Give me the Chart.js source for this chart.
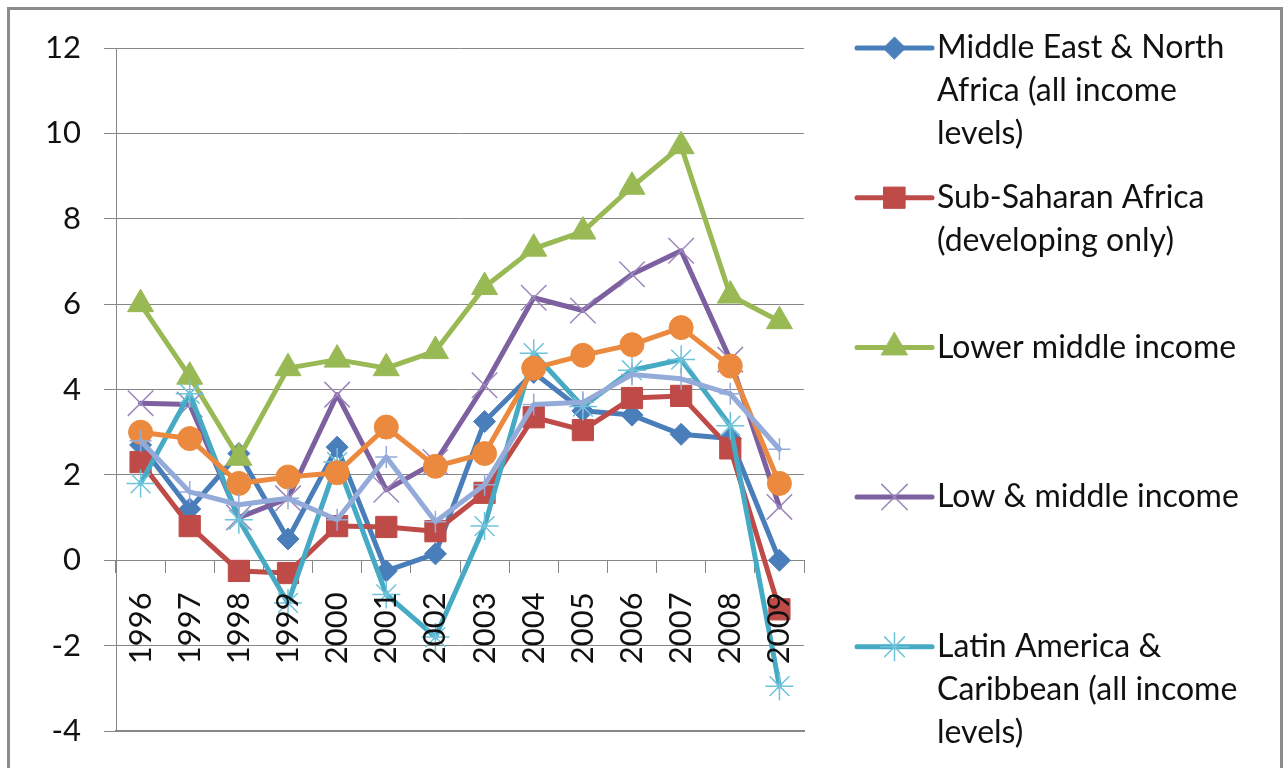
<!DOCTYPE html>
<html>
<head>
<meta charset="utf-8">
<script src="https://cdn.jsdelivr.net/npm/chart.js@4/dist/chart.umd.min.js"></script>
<style>
  html, body { margin: 0; padding: 0; background: #fff; overflow: hidden; }
  #wrap { position: absolute; left: 0; top: 0; width: 1283px; height: 768px; }
  #frame { position: absolute; left: 7px; top: 7px; width: 1276px; height: 800px;
           border: 3px solid #8c8c8c; box-sizing: border-box; }
  canvas { position: absolute; left: 0; top: 0; }
</style>
</head>
<body>
<div id="wrap">
  <div id="frame"></div>
  <canvas id="growthChart" width="1283" height="768"></canvas>
</div>
<script>
const years = ['1996', '1997', '1998', '1999', '2000', '2001', '2002',
               '2003', '2004', '2005', '2006', '2007', '2008', '2009'];

const menaValues   = [2.7, 1.2, 2.5, 0.5, 2.65, -0.25, 0.15, 3.25, 4.4, 3.5, 3.4, 2.95, 2.85, 0.0];
const ssaValues    = [2.3, 0.8, -0.25, -0.3, 0.8, 0.78, 0.68, 1.58, 3.35, 3.05, 3.8, 3.85, 2.62, -1.15];
const lowerMidValues = [6.0, 4.3, 2.4, 4.5, 4.7, 4.5, 4.9, 6.4, 7.3, 7.7, 8.75, 9.7, 6.2, 5.6];
const lowMidValues = [3.68, 3.65, 1.0, 1.45, 3.88, 1.65, 2.3, 4.1, 6.15, 5.85, 6.7, 7.25, 4.7, 1.25];
const lacValues    = [1.8, 3.9, 0.95, -1.0, 2.3, -0.8, -1.8, 0.8, 4.85, 3.6, 4.45, 4.7, 3.15, -2.95];
const series6Values = [3.0, 2.85, 1.8, 1.95, 2.05, 3.12, 2.2, 2.5, 4.5, 4.8, 5.05, 5.45, 4.55, 1.8];
const series7Values = [2.8, 1.6, 1.3, 1.45, 0.95, 2.42, 0.9, 1.77, 3.65, 3.7, 4.35, 4.25, 3.9, 2.6];

const yTicks = [-4, -2, 0, 2, 4, 6, 8, 10, 12];

const seriesNames = [
  ['Middle East & North', 'Africa (all income', 'levels)'],
  ['Sub-Saharan Africa', '(developing only)'],
  ['Lower middle income'],
  ['Low & middle income'],
  ['Latin America &', 'Caribbean (all income', 'levels)'],
  ['Series 6'],
  ['Series 7']
];

const FONT = 'Lato, "Open Sans", sans-serif';
const GRID = '#868686';

const makeSet = (idx, data, color, style, radius, markerColor, markerWidth, filled) => ({
  label: seriesNames[idx].join(' '),
  data: data,
  borderColor: color,
  backgroundColor: color,
  borderWidth: 5,
  borderJoinStyle: 'round',
  borderCapStyle: 'round',
  tension: 0,
  pointStyle: style,
  pointRadius: radius,
  pointBorderColor: markerColor,
  pointBackgroundColor: filled ? markerColor : 'transparent',
  pointBorderWidth: markerWidth,
  order: 7 - idx,
  inLegend: idx < 5
});

const datasets = [
  makeSet(0, menaValues, '#4A7EBB', 'rectRot', 11, '#4A7EBB', 1, true),
  makeSet(1, ssaValues, '#BE4B48', 'rect', 15, '#BE4B48', 1, true),
  makeSet(2, lowerMidValues, '#98B954', 'triangle', 15, '#98B954', 1, true),
  makeSet(3, lowMidValues, '#7D60A0', 'crossRot', 18, '#9C88BC', 1.5, false),
  makeSet(4, lacValues, '#46AAC5', 'star', 14, '#6FC3DA', 1.5, false),
  makeSet(5, series6Values, '#EB8A3E', 'circle', 12, '#EB8A3E', 1, true),
  makeSet(6, series7Values, '#94ABD9', 'cross', 11, '#94ABD9', 1.5, false)
];

// legend drawn by hand so the wrapped Excel-style labels fit
const sideLegend = {
  id: 'sideLegend',
  afterDraw(chart) {
    const ctx = chart.ctx;
    const lineX1 = 857, lineX2 = 932, textX = 937;
    const firstY = 48, gap = 149.7, lineH = 43;
    ctx.save();
    let n = 0;
    chart.data.datasets.forEach(ds => {
      if (!ds.inLegend) return;
      const y = firstY + gap * n;
      ctx.strokeStyle = ds.borderColor;
      ctx.lineWidth = 5;
      ctx.lineCap = 'round';
      ctx.beginPath();
      ctx.moveTo(lineX1, y);
      ctx.lineTo(lineX2, y);
      ctx.stroke();
      ctx.fillStyle = ds.pointBackgroundColor;
      ctx.strokeStyle = ds.pointBorderColor;
      ctx.lineWidth = ds.pointBorderWidth;
      Chart.helpers.drawPoint(ctx, {
        pointStyle: ds.pointStyle,
        radius: ds.pointRadius,
        borderWidth: ds.pointBorderWidth,
        rotation: 0
      }, (lineX1 + lineX2) / 2, y);
      ctx.fillStyle = '#111';
      ctx.font = '32px ' + FONT;
      ctx.textAlign = 'left';
      ctx.textBaseline = 'middle';
      seriesNames[chart.data.datasets.indexOf(ds)].forEach((t, k) => {
        ctx.fillText(t, textX, y + k * lineH);
      });
      n++;
    });
    ctx.restore();
  }
};

new Chart(document.getElementById('growthChart'), {
  type: 'line',
  data: { labels: years, datasets: datasets },
  plugins: [sideLegend],
  options: {
    responsive: false,
    animation: false,
    events: [],
    layout: { padding: { left: 20, right: 479, top: 48, bottom: 37 } },
    plugins: { legend: { display: false }, tooltip: { enabled: false } },
    scales: {
      x: {
        type: 'category',
        position: { y: 0 },
        offset: true,
        grid: { drawOnChartArea: false, offset: true, tickLength: 12, color: GRID },
        border: { color: GRID, width: 1 },
        ticks: {
          autoSkip: false, minRotation: 90, maxRotation: 90, padding: 20, z: 1,
          color: '#111', font: { family: FONT, size: 31 }
        }
      },
      // only there to draw the bottom edge line at -4
      xBottom: {
        type: 'category',
        position: 'bottom',
        offset: true,
        grid: { drawOnChartArea: false, drawTicks: false },
        border: { color: GRID, width: 2 },
        ticks: { display: false },
        afterFit: scale => { scale.height = 0; }
      },
      y: {
        min: -4,
        max: 12,
        afterBuildTicks: scale => { scale.ticks = yTicks.map(v => ({ value: v })); },
        afterFit: scale => {
          scale.width = 96;
          scale.paddingTop = 0;
          scale.paddingBottom = 0;
        },
        grid: { color: GRID, tickLength: 12 },
        border: { color: GRID, width: 1 },
        ticks: { padding: 23, color: '#111', font: { family: FONT, size: 31 } }
      }
    }
  }
});
</script>
</body>
</html>
